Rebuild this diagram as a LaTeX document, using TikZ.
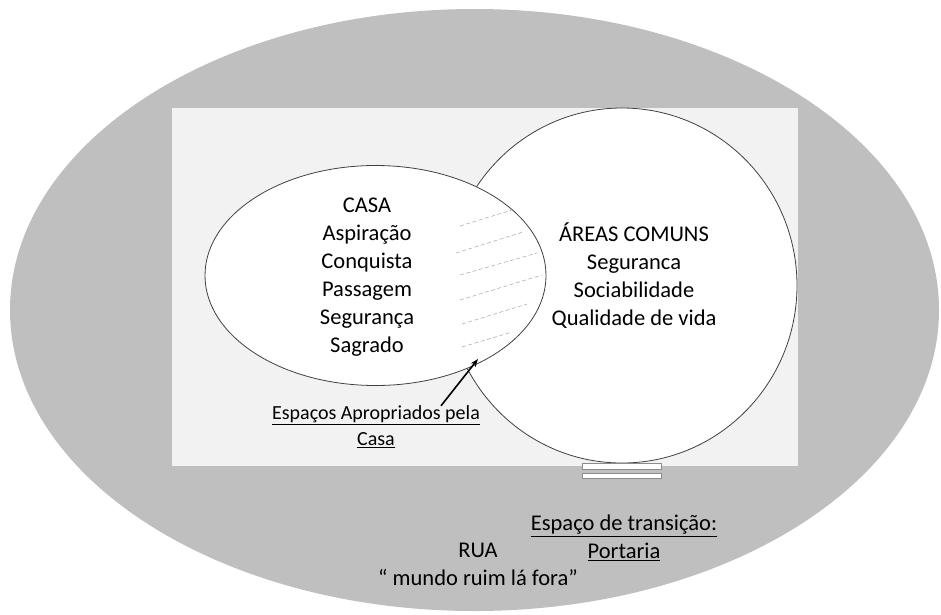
\documentclass[tikz,border=0pt]{standalone}
\usepackage{fontspec}
\setmainfont{Carlito}
\usetikzlibrary{arrows.meta,shapes.geometric}
\begin{document}
\begin{tikzpicture}[x=1pt,y=-1pt,line join=round,
    zona/.style={ellipse,draw=black!75,line width=.8pt,fill=white,inner sep=0pt},
    rotulo/.style={align=center,font=\fontsize{22.5}{28}\selectfont,inner sep=0pt},
    nota/.style={align=center,font=\fontsize{20}{26}\selectfont,inner sep=0pt},
    hachura/.style={draw=black!30,line width=.6pt,dash pattern=on 4pt off 2.5pt},
    portao/.style={draw=black!45,line width=.8pt,fill=white}]
  \useasboundingbox (0,0) rectangle (941,614);
  \fill[black!25] (474.5,310) ellipse [x radius=464.5pt,y radius=301pt];
  \fill[black!5] (172,108) rectangle (798,466);
  \node[zona,minimum width=350pt,minimum height=355pt] (areas) at (622,285.5) {};
  \node[zona,minimum width=341pt,minimum height=220pt] (casa) at (375.5,275.5) {};
  \foreach \xa/\ya/\xb/\yb in {460/226/512/210,456/253/523/232,460/275/537/253,
      460/300/542/275,462/324/527/304,462/347/512/332}
    \draw[hachura] (\xa,\ya) -- (\xb,\yb);
  \draw[portao] (582,463) rectangle (661,469);
  \draw[portao] (582,473) rectangle (661,478);
  \node[rotulo] (casatxt) at (367,277) {CASA\\Aspiração\\Conquista\\Passagem\\Segurança\\Sagrado};
  \node[rotulo] (areastxt) at (634,276) {ÁREAS COMUNS\\Seguranca\\Sociabilidade\\Qualidade de vida};
  \node[nota] (espacos) at (376,427) {\underline{Espaços Apropriados pela}\\\underline{Casa}};
  \node[rotulo] (portaria) at (624,538) {\underline{Espaço de transição:}\\\underline{Portaria}};
  \node[rotulo] (rua) at (478,564) {RUA\\“ mundo ruim lá fora”};
  \coordinate (apropriado) at (478,359);
  \draw[line width=1.6pt,-{Stealth[length=8pt,width=6pt]}] ([xshift=65pt]espacos.north) -- (apropriado);
\end{tikzpicture}
\end{document}
